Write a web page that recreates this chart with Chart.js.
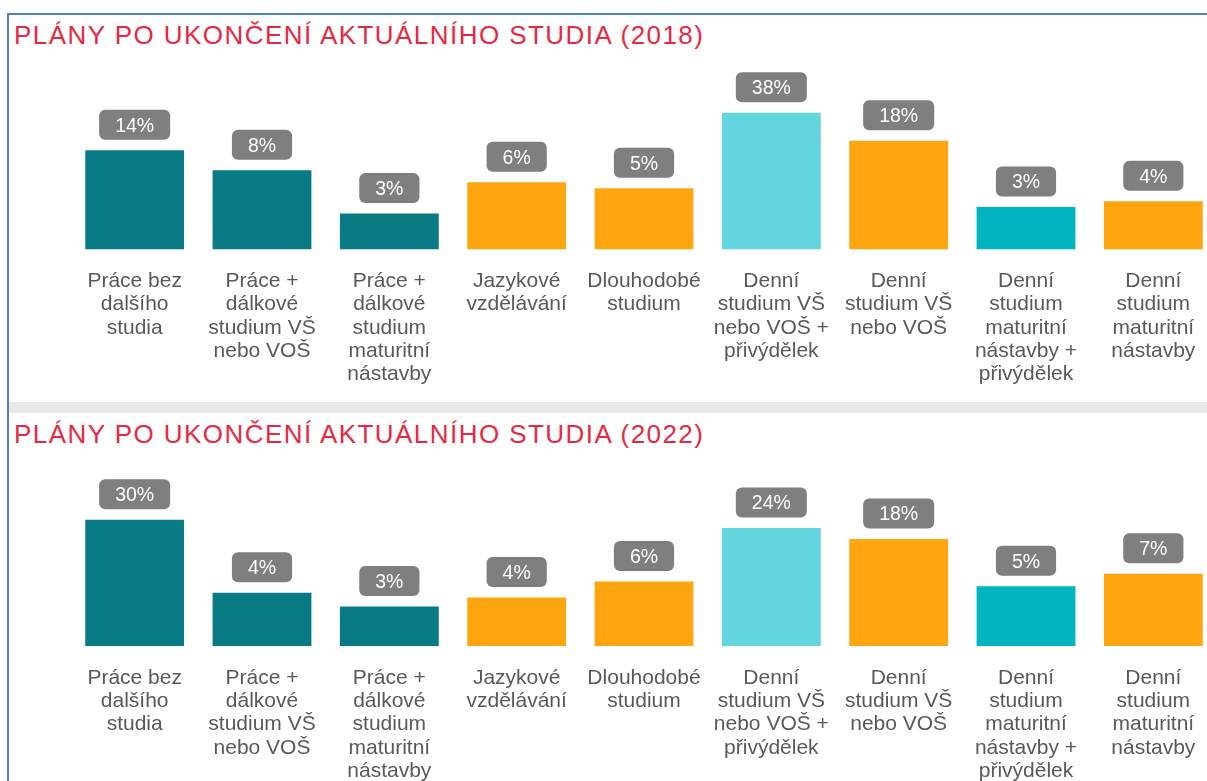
<!DOCTYPE html>
<html>
<head>
<meta charset="utf-8">
<script src="https://cdn.jsdelivr.net/npm/chart.js@4.4.1/dist/chart.umd.min.js"></script>
<style>
html,body{margin:0;padding:0;width:1207px;height:781px;overflow:hidden;background:#fff;font-family:"Liberation Sans",Arial,sans-serif;}
.frame-top{position:absolute;left:7px;top:13px;width:1200px;height:2px;background:#4f81bd;}
.frame-left{position:absolute;left:7px;top:13px;width:2px;height:768px;background:#4f81bd;}
.sep{position:absolute;left:9px;top:402px;width:1198px;height:11px;background:#e9e9e9;}
.title{position:absolute;left:14px;font-size:26px;line-height:26px;color:#e8283f;letter-spacing:1.45px;white-space:nowrap;}
.box{position:absolute;left:71px;width:1146px;}
</style>
</head>
<body>
<div class="frame-top"></div>
<div class="frame-left"></div>
<div class="title" style="top:22px">PLÁNY PO UKONČENÍ AKTUÁLNÍHO STUDIA (2018)</div>
<div class="box" style="top:50px;height:350px"><canvas id="c2018"></canvas></div>
<div class="sep"></div>
<div class="title" style="top:421.3px">PLÁNY PO UKONČENÍ AKTUÁLNÍHO STUDIA (2022)</div>
<div class="box" style="top:440px;height:341px"><canvas id="c2022"></canvas></div>
<script>
const categories = [
  ["Práce bez", "dalšího", "studia"],
  ["Práce +", "dálkové", "studium VŠ", "nebo VOŠ"],
  ["Práce +", "dálkové", "studium", "maturitní", "nástavby"],
  ["Jazykové", "vzdělávání"],
  ["Dlouhodobé", "studium"],
  ["Denní", "studium VŠ", "nebo VOŠ +", "přivýdělek"],
  ["Denní", "studium VŠ", "nebo VOŠ"],
  ["Denní", "studium", "maturitní", "nástavby +", "přivýdělek"],
  ["Denní", "studium", "maturitní", "nástavby"]
];
const values2018 = [14, 8.2, 2.6, 6, 5.1, 38, 18, 3.1, 3.6];
const values2022 = [30, 4.2, 2.9, 3.7, 5.7, 24, 17.8, 5, 7];
const barColors = ['#087a84','#087a84','#087a84','#ffa510','#ffa510','#62d5de','#ffa510','#00b5bf','#ffa510'];

const FONT = '"Liberation Sans", Arial, sans-serif';

const valueBoxes = {
  id: 'valueBoxes',
  afterDatasetsDraw(chart) {
    const ctx = chart.ctx;
    const meta = chart.getDatasetMeta(0);
    const data = chart.data.datasets[0].data;
    ctx.save();
    ctx.font = '19.5px ' + FONT;
    ctx.textAlign = 'center';
    ctx.textBaseline = 'middle';
    meta.data.forEach((bar, i) => {
      const txt = Math.round(data[i]) + '%';
      const w = ctx.measureText(txt).width + 32;
      const h = 30;
      const x = bar.x - w / 2;
      const y = bar.y - 10.5 - h;
      ctx.fillStyle = '#7f7f7f';
      ctx.beginPath();
      if (ctx.roundRect) { ctx.roundRect(x, y, w, h, 6); }
      else { ctx.rect(x, y, w, h); }
      ctx.fill();
      ctx.fillStyle = '#ffffff';
      ctx.fillText(txt, bar.x, y + h / 2 + 1.5);
    });
    ctx.restore();
  }
};

function makeChart(id, values, padTop, axisH) {
  return new Chart(document.getElementById(id), {
    type: 'bar',
    data: {
      labels: categories,
      datasets: [{
        data: values,
        backgroundColor: barColors,
        borderWidth: 0,
        barPercentage: 0.776,
        categoryPercentage: 1
      }]
    },
    options: {
      responsive: true,
      maintainAspectRatio: false,
      animation: false,
      layout: { padding: { top: padTop, left: 0, right: 0, bottom: 0 } },
      plugins: { legend: { display: false }, tooltip: { enabled: false } },
      scales: {
        x: {
          grid: { display: false, drawTicks: true, tickLength: 20 },
          border: { display: false },
          ticks: {
            color: '#595959',
            font: { family: FONT, size: 21, lineHeight: '23.3px' },
            padding: 0,
            maxRotation: 0,
            minRotation: 0,
            autoSkip: false
          },
          afterFit(s) { s.height = axisH; }
        },
        y: { type: 'logarithmic', display: false, min: 1, max: 100, bounds: 'data' }
      }
    },
    plugins: [valueBoxes]
  });
}

makeChart('c2018', values2018, 26.2, 150.4);
makeChart('c2022', values2022, 34.9, 134.8);
</script>
</body>
</html>
